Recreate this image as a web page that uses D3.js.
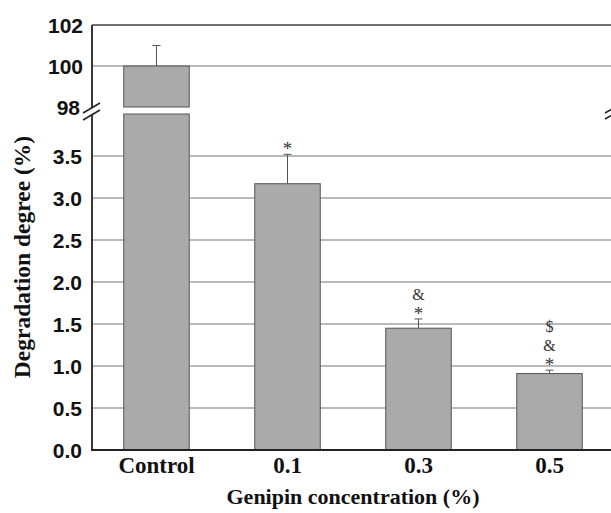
<!DOCTYPE html>
<html><head><meta charset="utf-8">
<script src="https://cdn.jsdelivr.net/npm/d3@7/dist/d3.min.js"></script>
<style>body{margin:0;background:#fff}svg{display:block}</style>
</head><body>
<svg id="c" width="611" height="513"></svg>
<script>
const categories = ["Control", "0.1", "0.3", "0.5"];
const values = [100, 3.17, 1.45, 0.91];
const errors = [1.0, 0.35, 0.11, 0.04];
const marks = [[], ["*"], ["*", "&"], ["*", "&", "$"]];
const lowerTicks = [0.0, 0.5, 1.0, 1.5, 2.0, 2.5, 3.0, 3.5];
const upperTicks = [98, 100, 102];

const svg = d3.select("#c");
const x = d3.scaleBand().domain(categories).range([91, 615]).paddingInner(0.5).paddingOuter(0.25);
const yLow = d3.scaleLinear().domain([0, 4]).range([450, 114]);
const yUp = d3.scaleLinear().domain([98, 102]).range([107, 25]);
const left = 92, right = 611;

// gridlines
const grid = svg.append("g").attr("stroke", "#777").attr("stroke-width", 1.2);
lowerTicks.filter(t => t > 0).forEach(t => grid.append("line").attr("x1", left).attr("x2", right).attr("y1", yLow(t)).attr("y2", yLow(t)));
grid.append("line").attr("x1", left).attr("x2", right).attr("y1", yUp(100)).attr("y2", yUp(100));
// top border
svg.append("line").attr("x1", left).attr("x2", right).attr("y1", yUp(102)).attr("y2", yUp(102)).attr("stroke", "#444").attr("stroke-width", 1.6);

// bars
const bars = svg.append("g");
const markOffset = {"*": 8, "&": 24, "$": 43};
categories.forEach((c, i) => {
  const v = values[i];
  const bx = x(c), bw = x.bandwidth();
  if (v > 4) {
    bars.append("rect").attr("x", bx).attr("y", yLow(4)).attr("width", bw).attr("height", yLow(0) - yLow(4))
      .attr("fill", "#aaaaaa").attr("stroke", "#555").attr("stroke-width", 1);
    bars.append("rect").attr("x", bx).attr("y", yUp(v)).attr("width", bw).attr("height", yUp(98) - yUp(v))
      .attr("fill", "#aaaaaa").attr("stroke", "#555").attr("stroke-width", 1);
    const cx = bx + bw / 2, ye = yUp(v + errors[i]);
    bars.append("line").attr("x1", cx).attr("x2", cx).attr("y1", yUp(v)).attr("y2", ye).attr("stroke", "#555");
    bars.append("line").attr("x1", cx - 4).attr("x2", cx + 4).attr("y1", ye).attr("y2", ye).attr("stroke", "#555");
  } else {
    bars.append("rect").attr("x", bx).attr("y", yLow(v)).attr("width", bw).attr("height", yLow(0) - yLow(v))
      .attr("fill", "#aaaaaa").attr("stroke", "#555").attr("stroke-width", 1);
    const cx = bx + bw / 2, ye = yLow(v + errors[i]);
    bars.append("line").attr("x1", cx).attr("x2", cx).attr("y1", yLow(v)).attr("y2", ye).attr("stroke", "#555");
    bars.append("line").attr("x1", cx - 4).attr("x2", cx + 4).attr("y1", ye).attr("y2", ye).attr("stroke", "#555");
    marks[i].forEach(m => {
      const cy = ye - markOffset[m];
      svg.append("text").attr("x", cx).attr("y", cy).attr("dy", m === "*" ? "0.45em" : "0.33em")
        .attr("text-anchor", "middle").attr("font-family", "Liberation Serif, Times New Roman, serif")
        .attr("font-size", m === "*" ? 19 : 16).attr("fill", "#333").text(m);
    });
  }
});

// left axis line (with break)
svg.append("line").attr("x1", left).attr("x2", left).attr("y1", yUp(102)).attr("y2", 108).attr("stroke", "#222").attr("stroke-width", 1.8);
svg.append("line").attr("x1", left).attr("x2", left).attr("y1", 115).attr("y2", yLow(0)).attr("stroke", "#222").attr("stroke-width", 1.8);
// break marks
const brk = svg.append("g").attr("stroke", "#222").attr("stroke-width", 1.6);
brk.append("line").attr("x1", 83).attr("y1", 113).attr("x2", 100).attr("y2", 103);
brk.append("line").attr("x1", 83).attr("y1", 120).attr("x2", 100).attr("y2", 110);
brk.append("line").attr("x1", 605).attr("y1", 113).attr("x2", 612).attr("y2", 109);
brk.append("line").attr("x1", 605).attr("y1", 119).attr("x2", 612).attr("y2", 115);
// bottom axis
svg.append("line").attr("x1", left - 1).attr("x2", right).attr("y1", yLow(0)).attr("y2", yLow(0)).attr("stroke", "#222").attr("stroke-width", 1.8);

// y tick labels
const tf = "Liberation Sans, Arial, sans-serif";
lowerTicks.forEach(t => svg.append("text").attr("x", 82).attr("y", yLow(t)).attr("dy", "0.36em")
  .attr("text-anchor", "end").attr("font-family", tf).attr("font-weight", "bold").attr("font-size", 21).attr("fill", "#111").text(d3.format(".1f")(t)));
upperTicks.forEach(t => svg.append("text").attr("x", t === 98 ? 80 : 83).attr("y", yUp(t)).attr("dy", "0.36em")
  .attr("text-anchor", "end").attr("font-family", tf).attr("font-weight", "bold").attr("font-size", 21).attr("fill", "#111").text(t));

// x tick labels
const sf = "Liberation Serif, Times New Roman, serif";
categories.forEach(c => svg.append("text").attr("x", x(c) + x.bandwidth() / 2).attr("y", 473)
  .attr("text-anchor", "middle").attr("font-family", sf).attr("font-weight", "bold").attr("font-size", 23).attr("fill", "#111").text(c));

// axis titles
svg.append("text").attr("x", 353).attr("y", 504).attr("text-anchor", "middle").attr("font-family", sf)
  .attr("font-weight", "bold").attr("font-size", 22).attr("fill", "#111").text("Genipin concentration (%)");
svg.append("text").attr("transform", "translate(30,257) rotate(-90)").attr("text-anchor", "middle").attr("font-family", sf)
  .attr("font-weight", "bold").attr("font-size", 23.5).attr("fill", "#111").text("Degradation degree (%)");
</script>
</body></html>
